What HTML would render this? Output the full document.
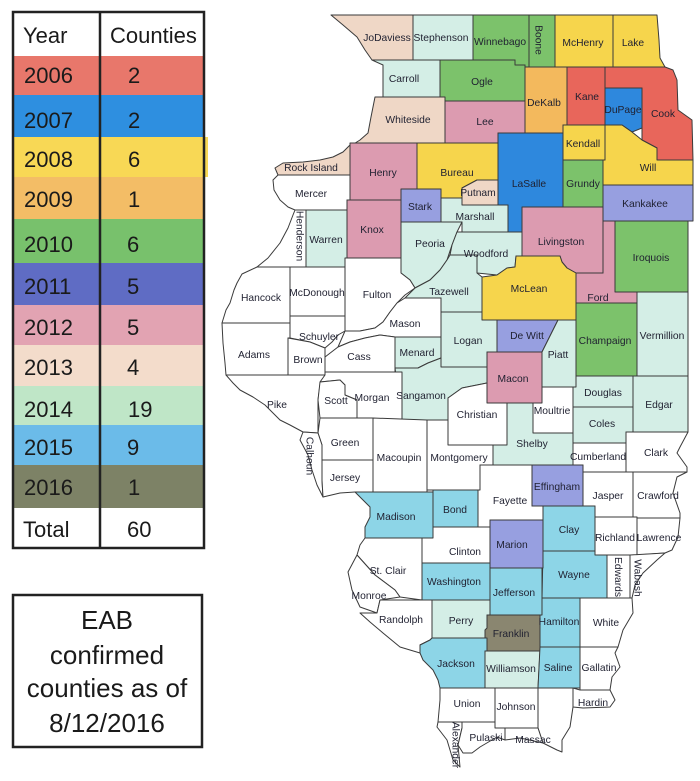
<!DOCTYPE html>
<html><head><meta charset="utf-8"><style>
html,body{margin:0;padding:0;background:#fff;}
svg{display:block;}
.tb{font-family:"Liberation Sans",sans-serif;font-size:22px;fill:#1a1a1a;}
.eab{font-family:"Liberation Sans",sans-serif;font-size:26px;fill:#1a1a1a;text-anchor:middle;}
.map polygon{stroke:#3a3a3a;stroke-width:1;stroke-linejoin:round;}
.r{fill:#e8665b}.b{fill:#2e88dd}.y{fill:#f6d54c}.o{fill:#f3b95d}.g{fill:#7cc26b}
.v{fill:#979fe0}.p{fill:#dc9bb0}.c{fill:#efd7c6}.m{fill:#d4eee6}.t{fill:#8dd5e7}
.k{fill:#8a8670}.w{fill:#ffffff}
.lb text{font-family:"Liberation Sans",sans-serif;font-size:10.3px;fill:#1f2030;text-anchor:middle;}
</style></head><body>
<svg width="700" height="781" viewBox="0 0 700 781" xmlns="http://www.w3.org/2000/svg">
<!-- TABLE -->
<rect x="13" y="12" width="191" height="536" fill="#fff"/>
<rect x="13" y="56" width="191" height="39" fill="#e8776b"/>
<rect x="13" y="95" width="191" height="42" fill="#2e8fe0"/>
<rect x="13" y="137" width="191" height="40" fill="#f8d855"/>
<rect x="204" y="137" width="4" height="40" fill="#f8d855"/>
<rect x="13" y="177" width="191" height="42" fill="#f3bd66"/>
<rect x="13" y="219" width="191" height="44" fill="#78c16c"/>
<rect x="13" y="263" width="191" height="42" fill="#5f6cc4"/>
<rect x="13" y="305" width="191" height="40" fill="#e2a3b2"/>
<rect x="13" y="345" width="191" height="41" fill="#f3dccb"/>
<rect x="13" y="386" width="191" height="39" fill="#bfe6c7"/>
<rect x="13" y="425" width="191" height="40" fill="#6bbbe9"/>
<rect x="13" y="465" width="191" height="43" fill="#7d8266"/>
<rect x="13" y="12" width="191" height="536" fill="none" stroke="#222" stroke-width="2.5"/>
<line x1="100" y1="12" x2="100" y2="548" stroke="#222" stroke-width="2.5"/>
<g class="tb">
<text x="23" y="43">Year</text><text x="110" y="43">Counties</text>
<text x="24" y="83">2006</text><text x="128" y="83">2</text>
<text x="24" y="128">2007</text><text x="128" y="128">2</text>
<text x="24" y="167">2008</text><text x="128" y="167">6</text>
<text x="24" y="207">2009</text><text x="128" y="207">1</text>
<text x="24" y="252">2010</text><text x="127" y="252">6</text>
<text x="24" y="294">2011</text><text x="127" y="294">5</text>
<text x="24" y="335">2012</text><text x="127" y="335">5</text>
<text x="24" y="375">2013</text><text x="127" y="375">4</text>
<text x="24" y="417">2014</text><text x="128" y="417">19</text>
<text x="24" y="455">2015</text><text x="127" y="455">9</text>
<text x="24" y="495">2016</text><text x="128" y="495">1</text>
<text x="23" y="537">Total</text><text x="127" y="537">60</text>
</g>
<!-- EAB BOX -->
<rect x="13" y="595" width="189" height="152" fill="#fff" stroke="#222" stroke-width="2.5"/>
<text class="eab" x="107" y="629">EAB</text>
<text class="eab" x="107" y="664">confirmed</text>
<text class="eab" x="107" y="697">counties as of</text>
<text class="eab" x="107" y="732">8/12/2016</text>
<!-- MAP -->
<g class="map">
<polygon class="c" points="331,15 413,15 413,60 372,60 365,50 357,37 343,25"/>
<polygon class="m" points="372,60 440,60 440,97 383,97 383,65"/>
<polygon class="m" points="413,15 473,15 473,60 413,60"/>
<polygon class="g" points="473,15 529,15 529,67 525,67 525,65 515,65 515,60 473,60"/>
<polygon class="g" points="529,15 555,15 555,67 529,67"/>
<polygon class="y" points="555,15 613,15 613,67 555,67"/>
<polygon class="y" points="613,15 657,15 659,40 660,58 665,67 613,67"/>
<polygon class="g" points="440,60 515,60 515,65 525,65 525,101 440,101"/>
<polygon class="o" points="525,67 567,67 567,125 563,125 563,133 525,133"/>
<polygon class="r" points="567,67 605,67 605,125 567,125"/>
<polygon class="r" points="605,67 665,67 673,70 677,80 678,110 692,120 693,160 657,160 657,148 642,140 642,88 605,88"/>
<polygon class="b" points="605,88 642,88 642,128 632,132 622,125 605,125"/>
<polygon class="y" points="605,125 622,125 632,132 642,140 657,148 657,160 693,160 693,185 603,185 603,160 605,160"/>
<polygon class="y" points="563,125 605,125 605,160 563,160"/>
<polygon class="g" points="563,160 603,160 603,207 563,207"/>
<polygon class="v" points="603,185 693,185 693,221 603,221"/>
<polygon class="g" points="615,221 688,221 688,292 615,292"/>
<polygon class="p" points="603,221 615,221 615,292 637,292 637,303 576,303 576,273 603,273"/>
<polygon class="p" points="522,207 603,207 603,273 576,273 567,268 562,262 560,256 522,256"/>
<polygon class="c" points="375,97 445,97 445,143 352,145 360,140 368,133 371,117"/>
<polygon class="p" points="445,101 525,101 525,133 498,133 498,143 445,143"/>
<polygon class="c" points="350,145 350,175 278,175 275,168 283,163 303,162 320,160 333,157 343,152"/>
<polygon class="p" points="350,143 417,143 417,200 350,200"/>
<polygon class="w" points="278,175 350,175 350,200 347,200 347,210 295,210 288,207 280,200 274,190 273,180"/>
<polygon class="w" points="295,210 306,210 306,267 257,267 268,258 280,243 288,228 293,215"/>
<polygon class="m" points="306,210 347,210 347,267 306,267"/>
<polygon class="p" points="347,200 401,200 401,258 347,258"/>
<polygon class="y" points="417,143 498,143 498,180 477,180 462,188 462,198 441,198 441,189 417,189"/>
<polygon class="v" points="401,189 441,189 441,222 401,222"/>
<polygon class="c" points="477,180 498,180 498,205 462,205 462,188"/>
<polygon class="b" points="498,133 563,133 563,207 522,207 522,232 508,232 508,205 498,205"/>
<polygon class="m" points="441,198 462,198 462,205 508,205 508,232 462,232 462,222 441,222"/>
<polygon class="m" points="401,222 462,222 457,232 452,245 447,260 440,270 430,280 415,288 410,280 401,273"/>
<polygon class="w" points="345,258 401,258 401,273 410,280 415,288 405,295 397,303 390,312 383,322 375,328 360,331 345,331"/>
<polygon class="m" points="462,232 522,232 522,256 516,256 515,267 507,268 497,275 477,273 477,255 450,255 452,245 457,232"/>
<polygon class="m" points="450,255 477,255 477,273 482,277 482,312 441,312 441,298 405,298 415,288 430,280 440,270 447,260"/>
<polygon class="y" points="482,277 497,275 507,268 515,267 516,256 560,256 562,262 567,268 576,273 576,320 482,320"/>
<polygon class="w" points="345,331 360,331 375,328 383,322 390,312 397,303 405,298 441,298 441,337 395,337 380,335 365,338 350,342 338,347"/>
<polygon class="w" points="325,357 338,347 350,342 365,338 380,335 395,337 395,372 325,372"/>
<polygon class="m" points="395,337 441,337 441,358 428,363 418,368 395,368"/>
<polygon class="m" points="441,312 482,312 482,320 497,320 497,352 487,352 487,367 441,367"/>
<polygon class="m" points="395,368 418,368 428,363 441,358 441,367 487,367 487,383 462,388 448,398 448,420 402,420"/>
<polygon class="v" points="497,320 558,320 548,340 542,352 497,352"/>
<polygon class="p" points="487,352 542,352 542,403 487,403"/>
<polygon class="m" points="558,320 576,320 576,387 542,387 542,352 548,340"/>
<polygon class="g" points="576,303 637,303 637,376 576,376"/>
<polygon class="m" points="637,292 688,292 688,376 637,376"/>
<polygon class="m" points="576,376 633,376 633,407 573,407 573,387 576,387"/>
<polygon class="m" points="633,376 688,376 688,432 633,432"/>
<polygon class="m" points="573,407 633,407 633,432 626,432 626,443 573,443"/>
<polygon class="w" points="533,403 542,403 542,387 573,387 573,433 533,433"/>
<polygon class="w" points="448,398 462,388 487,383 487,403 507,403 507,445 448,445"/>
<polygon class="m" points="507,403 533,403 533,433 573,433 573,465 493,465 493,445 507,445"/>
<polygon class="w" points="573,443 626,443 626,472 583,472 583,465 573,465"/>
<polygon class="w" points="626,432 688,432 680,447 677,453 687,467 687,472 626,472"/>
<polygon class="w" points="257,267 290,267 290,323 222,323 226,310 230,303 234,290 237,283 242,274"/>
<polygon class="w" points="290,267 345,267 345,316 290,316"/>
<polygon class="w" points="290,316 345,316 345,331 338,335 332,342 325,348 310,342 290,338"/>
<polygon class="w" points="222,323 290,323 290,338 288,338 288,375 226,375 225,363 223,343"/>
<polygon class="w" points="288,338 310,342 325,348 325,375 288,375"/>
<polygon class="w" points="226,375 325,375 320,385 318,400 318,433 303,432 290,425 280,420 265,405 253,397 240,390 233,383"/>
<polygon class="w" points="325,372 402,372 402,420 357,420 357,400 345,395 345,385 340,380 320,382 325,375"/>
<polygon class="w" points="320,382 340,380 345,385 345,395 357,400 357,418 320,418 318,400"/>
<polygon class="w" points="320,418 373,418 373,460 322,460 322,445 318,433"/>
<polygon class="w" points="303,432 318,433 322,445 322,460 322,480 323,497 317,485 312,470 308,455 300,440"/>
<polygon class="w" points="322,460 373,460 373,492 355,492 340,493 323,497 322,480"/>
<polygon class="w" points="373,418 427,420 427,492 373,492"/>
<polygon class="w" points="427,420 448,420 448,445 493,445 493,465 480,465 480,490 427,490"/>
<polygon class="t" points="355,492 433,492 433,538 365,538 365,527 370,517 370,507"/>
<polygon class="t" points="433,490 478,490 478,527 433,527"/>
<polygon class="w" points="480,465 532,465 532,506 543,506 543,520 490,520 490,527 478,527 478,490 480,490"/>
<polygon class="v" points="532,465 583,465 583,506 532,506"/>
<polygon class="w" points="583,472 633,472 633,517 595,517 595,506 583,506"/>
<polygon class="w" points="633,472 687,472 677,477 673,493 680,513 680,518 633,518"/>
<polygon class="t" points="543,506 595,506 595,551 543,551"/>
<polygon class="w" points="595,517 637,517 637,555 595,555"/>
<polygon class="w" points="637,518 680,518 678,537 672,550 665,553 637,555"/>
<polygon class="w" points="607,555 630,555 630,598 607,598"/>
<polygon class="w" points="630,555 665,553 657,560 643,573 635,585 632,598 630,600"/>
<polygon class="t" points="543,551 595,551 595,555 607,555 607,598 542,598"/>
<polygon class="v" points="490,520 543,520 543,568 490,568"/>
<polygon class="w" points="433,527 490,527 490,563 422,563 422,538 433,538"/>
<polygon class="w" points="365,538 422,538 422,600 400,597 395,590 375,575 357,555 360,545"/>
<polygon class="w" points="357,555 375,575 395,590 400,597 380,600 377,613 360,607 352,590 348,572"/>
<polygon class="t" points="422,563 490,563 490,600 422,600"/>
<polygon class="t" points="490,568 542,568 542,615 490,615"/>
<polygon class="w" points="380,600 432,600 432,638 430,640 420,645 420,653 400,647 383,633 370,622 360,613 377,613"/>
<polygon class="m" points="432,600 490,600 490,615 487,615 487,638 432,638"/>
<polygon class="k" points="487,615 542,615 540,651 487,651 485,640 485,630 487,628"/>
<polygon class="t" points="542,598 580,598 580,647 540,647 540,615 542,615"/>
<polygon class="w" points="580,598 632,598 633,613 623,630 618,647 580,647"/>
<polygon class="t" points="420,645 430,640 432,638 487,638 487,651 485,651 485,688 440,688 438,680 433,670 423,660 420,653"/>
<polygon class="m" points="485,651 540,651 538,688 485,688"/>
<polygon class="t" points="540,647 580,647 580,688 538,688"/>
<polygon class="w" points="580,647 618,647 615,653 620,667 612,677 610,690 580,690"/>
<polygon class="w" points="440,688 495,688 495,722 438,722 440,700"/>
<polygon class="w" points="495,688 538,688 538,728 495,728"/>
<polygon class="w" points="538,688 573,688 573,707 570,727 562,740 562,752 557,750 543,743 538,728"/>
<polygon class="w" points="573,688 580,690 610,690 615,700 610,707 583,708 573,707"/>
<polygon class="w" points="438,722 462,722 462,728 458,745 460,767 453,760 447,740 437,727"/>
<polygon class="w" points="462,722 495,722 495,728 505,728 505,740 497,737 480,747 472,753 463,753 458,745 462,728"/>
<polygon class="w" points="505,728 538,728 543,743 520,738 505,740"/>
</g>
<g class="lb">
<text x="387" y="41" font-size="9.5">JoDaviess</text>
<text x="441" y="41">Stephenson</text>
<text x="500" y="45" font-size="9.3">Winnebago</text>
<text x="583" y="46">McHenry</text>
<text x="633" y="46">Lake</text>
<text x="404" y="82">Carroll</text>
<text x="482" y="85">Ogle</text>
<text x="544" y="106">DeKalb</text>
<text x="587" y="100">Kane</text>
<text x="623" y="113" font-size="8.5">DuPage</text>
<text x="663" y="117">Cook</text>
<text x="408" y="123">Whiteside</text>
<text x="485" y="125">Lee</text>
<text x="583" y="147">Kendall</text>
<text x="311" y="171">Rock Island</text>
<text x="383" y="176">Henry</text>
<text x="457" y="176">Bureau</text>
<text x="478" y="196" font-size="9.4">Putnam</text>
<text x="529" y="187">LaSalle</text>
<text x="583" y="187">Grundy</text>
<text x="648" y="171">Will</text>
<text x="311" y="197">Mercer</text>
<text x="420" y="210">Stark</text>
<text x="475" y="220">Marshall</text>
<text x="645" y="207">Kankakee</text>
<text x="326" y="243">Warren</text>
<text x="372" y="233">Knox</text>
<text x="561" y="245">Livingston</text>
<text x="430" y="247">Peoria</text>
<text x="486" y="257">Woodford</text>
<text x="651" y="261">Iroquois</text>
<text x="261" y="301">Hancock</text>
<text x="317" y="296" font-size="7.8">McDonough</text>
<text x="377" y="298">Fulton</text>
<text x="449" y="295">Tazewell</text>
<text x="529" y="292">McLean</text>
<text x="598" y="301">Ford</text>
<text x="405" y="327">Mason</text>
<text x="527" y="339">De Witt</text>
<text x="605" y="344">Champaign</text>
<text x="662" y="339">Vermillion</text>
<text x="319" y="340" font-size="8.8">Schuyler</text>
<text x="468" y="344">Logan</text>
<text x="254" y="358">Adams</text>
<text x="308" y="363">Brown</text>
<text x="359" y="360">Cass</text>
<text x="417" y="356">Menard</text>
<text x="558" y="358">Piatt</text>
<text x="513" y="382">Macon</text>
<text x="603" y="396">Douglas</text>
<text x="277" y="408">Pike</text>
<text x="336" y="404">Scott</text>
<text x="372" y="401">Morgan</text>
<text x="421" y="399" font-size="8.6">Sangamon</text>
<text x="477" y="418">Christian</text>
<text x="552" y="414" font-size="9.6">Moultrie</text>
<text x="659" y="408">Edgar</text>
<text x="602" y="427">Coles</text>
<text x="532" y="447">Shelby</text>
<text x="345" y="446">Green</text>
<text x="656" y="456">Clark</text>
<text x="598" y="460" font-size="7.9">Cumberland</text>
<text x="399" y="461">Macoupin</text>
<text x="459" y="461">Montgomery</text>
<text x="345" y="481">Jersey</text>
<text x="557" y="490">Effingham</text>
<text x="608" y="499">Jasper</text>
<text x="658" y="499">Crawford</text>
<text x="510" y="504">Fayette</text>
<text x="455" y="513">Bond</text>
<text x="396" y="520">Madison</text>
<text x="569" y="533">Clay</text>
<text x="512" y="548">Marion</text>
<text x="615" y="541">Richland</text>
<text x="659" y="541" font-size="7.8">Lawrence</text>
<text x="465" y="555">Clinton</text>
<text x="388" y="574">St. Clair</text>
<text x="574" y="578">Wayne</text>
<text x="454" y="585">Washington</text>
<text x="514" y="596">Jefferson</text>
<text x="369" y="599">Monroe</text>
<text x="401" y="623">Randolph</text>
<text x="461" y="624">Perry</text>
<text x="511" y="637">Franklin</text>
<text x="559" y="625" font-size="9.3">Hamilton</text>
<text x="606" y="626" font-size="9.6">White</text>
<text x="456" y="667">Jackson</text>
<text x="511" y="672" font-size="9.4">Williamson</text>
<text x="558" y="671">Saline</text>
<text x="599" y="671" font-size="9.1">Gallatin</text>
<text x="593" y="706" font-size="9.1">Hardin</text>
<text x="467" y="707" font-size="9.6">Union</text>
<text x="516" y="710" font-size="8.7">Johnson</text>
<text x="486" y="741" font-size="9">Pulaski</text>
<text x="533" y="743" font-size="9">Massac</text>
<text transform="translate(539,40) rotate(90)" y="3.5" font-size="9.8">Boone</text>
<text transform="translate(300,236) rotate(90)" y="3.5" font-size="10.6">Henderson</text>
<text transform="translate(310,456) rotate(90)" y="3.5" font-size="10.5">Calhoun</text>
<text transform="translate(618,577) rotate(90)" y="3" font-size="8.6">Edwards</text>
<text transform="translate(638,578) rotate(90)" y="3.5" font-size="10">Wabash</text>
<text transform="translate(456,745) rotate(90)" y="3.3" font-size="9.6">Alexander</text>
</g>
</svg>
</body></html>
